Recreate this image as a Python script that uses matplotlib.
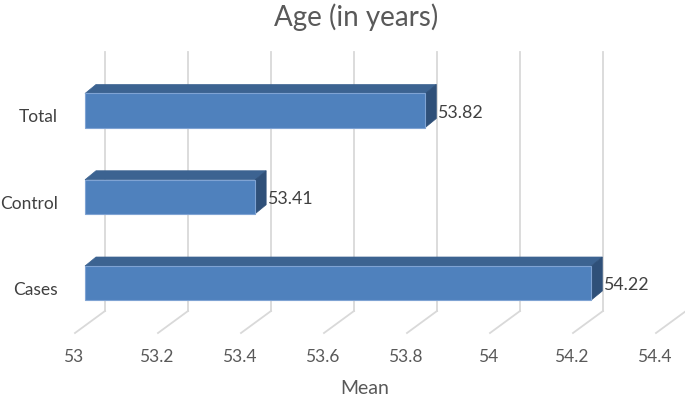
import matplotlib
matplotlib.use("Agg")
import matplotlib.pyplot as plt
from matplotlib.patches import Polygon

categories = ["Cases", "Control", "Total"]
means = [54.22, 53.41, 53.82]
ticks = [53.0, 53.2, 53.4, 53.6, 53.8, 54.0, 54.2, 54.4]
tick_labels = ["53", "53.2", "53.4", "53.6", "53.8", "54", "54.2", "54.4"]
title = "Age (in years)"
xlabel = "Mean"

FACE = "#4F81BD"
TOP = "#3C6391"
SIDE = "#2F5079"
EDGE = "#7FA3D3"
GRID = "#D9D9D9"
TEXT = "#595959"
VALUE_TEXT = "#404040"

plt.rcParams["font.family"] = ["Lato", "DejaVu Sans"]

fig = plt.figure(figsize=(6.85, 3.98), dpi=100)
ax = fig.add_axes([0, 0, 1, 1])
ax.set_axis_off()

# pixel scale of the front plane of the bars
px_x = 1 / 415.0
px_y = 1 / 86.25
base = ticks[0]
ax.set_xlim(base - 85 * px_x, base + 600 * px_x)
ax.set_ylim(-115 * px_y, 283 * px_y)

# back wall and floor gridlines (3D look)
back_dx, floor_back, wall_top = 20 * px_x, -28 * px_y, 231 * px_y
front_dx, floor_front = -10 * px_x, -50 * px_y
for t, lab in zip(ticks, tick_labels):
    ax.plot([t + back_dx, t + back_dx], [floor_back, wall_top], color=GRID, lw=1.3, zorder=1)
    ax.plot([t + back_dx, t + front_dx], [floor_back, floor_front], color=GRID, lw=1.3, zorder=1)
    ax.text(t - 12 * px_x, -74 * px_y, lab, ha="center", va="center", fontsize=12.5, color=TEXT)

# bars with depth
ypos = list(range(len(categories)))
h = 34 * px_y
ddx, ddy = 11 * px_x, 9 * px_y
ax.barh(ypos, [m - base for m in means], left=base, height=h, color=FACE,
        edgecolor=EDGE, linewidth=0.8, zorder=3)
for y, m, cat in zip(ypos, means, categories):
    top = y + h / 2
    bot = y - h / 2
    ax.add_patch(Polygon([(base, top), (m, top), (m + ddx, top + ddy), (base + ddx, top + ddy)],
                         closed=True, facecolor=TOP, edgecolor=TOP, lw=0.5, zorder=2))
    ax.add_patch(Polygon([(m, bot), (m, top), (m + ddx, top + ddy), (m + ddx, bot + ddy)],
                         closed=True, facecolor=SIDE, edgecolor=SIDE, lw=0.5, zorder=2))
    ax.text(m + ddx + 0.5 * px_x, y - 2 * px_y, f"{m:.2f}", ha="left", va="center",
            fontsize=12.8, color=VALUE_TEXT)
    ax.text(base - 27 * px_x, y - 7 * px_y, cat, ha="right", va="center",
            fontsize=12.5, color=VALUE_TEXT)

fig.text(356 / 685, 1 - 17 / 398, title, ha="center", va="center", fontsize=20, color=TEXT)
fig.text(365 / 685, 1 - 389 / 398, xlabel, ha="center", va="center", fontsize=14, color=TEXT)

fig.savefig("out.png", dpi=100)
